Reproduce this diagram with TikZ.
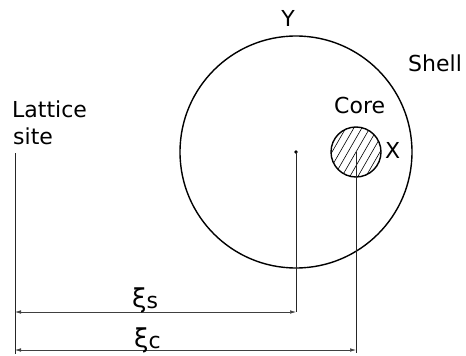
\documentclass[tikz,border=0pt]{standalone}
\usepackage{fontspec}
\setmainfont{DejaVu Sans}
\usetikzlibrary{arrows.meta,calc}
\begin{document}
\begin{tikzpicture}[x=1pt,y=-1pt,
  lbl/.style={font=\fontsize{22}{24}\selectfont, inner sep=0pt},
  outline/.style={line width=1.4pt},
  refline/.style={line width=0.7pt, black!85},
  dim/.style={{Latex[length=6pt,width=3.5pt]}-{Latex[length=6pt,width=3.5pt]}, line width=0.5pt, black!75},
  hatch/.style={line width=0.6pt}]
\useasboundingbox (0,0) rectangle (466,356);
% key points
\coordinate (S) at (296,152);
\coordinate (C) at (356,152);
\coordinate (Ltop) at (15,153);
\coordinate (Lbot) at (15,354);
\coordinate (Sbot) at (296,312);
\coordinate (Cbot) at (356,353);
\coordinate (Ls) at (15,312);
\coordinate (Lc) at (15,350);
\coordinate (Cc) at (356,350);
% shell
\draw[outline] (S) circle[radius=116];
\fill (S) circle[radius=1.8];
% core with hatching
\begin{scope}
  \clip (C) circle[radius=25];
  \foreach \i in {-64,-56,...,64}
    \draw[hatch] ($(C)+(\i-30,52)$) -- ($(C)+(\i+30,-52)$);
\end{scope}
\draw[outline] (C) circle[radius=25];
% reference lines
\draw[refline] (Ltop) -- (Lbot);
\draw[refline] (S) -- (Sbot);
\draw[refline] (C) -- (Cbot);
% dimension arrows
\draw[dim] (Ls) -- (Sbot);
\draw[dim] (Lc) -- (Cc);
% labels
\node[lbl, anchor=base west] (lat) at (12,117) {Lattice};
\node[lbl, anchor=base west] (site) at (13,144) {site};
\node[lbl, anchor=base] (Y) at (288,27) {Y};
\node[lbl, anchor=base west] (shell) at (408,71) {Shell};
\node[lbl, anchor=base west] (core) at (334,113) {Core};
\node[lbl, anchor=base west] (X) at (385,158) {X};
\node[lbl, anchor=base west] (xis) at (132,307) {{\fontsize{26}{28}\selectfont ξ}\raisebox{-1pt}{s}};
\node[lbl, anchor=base west] (xic) at (134,347) {{\fontsize{26}{28}\selectfont ξ}\raisebox{-1pt}{c}};
\end{tikzpicture}
\end{document}
